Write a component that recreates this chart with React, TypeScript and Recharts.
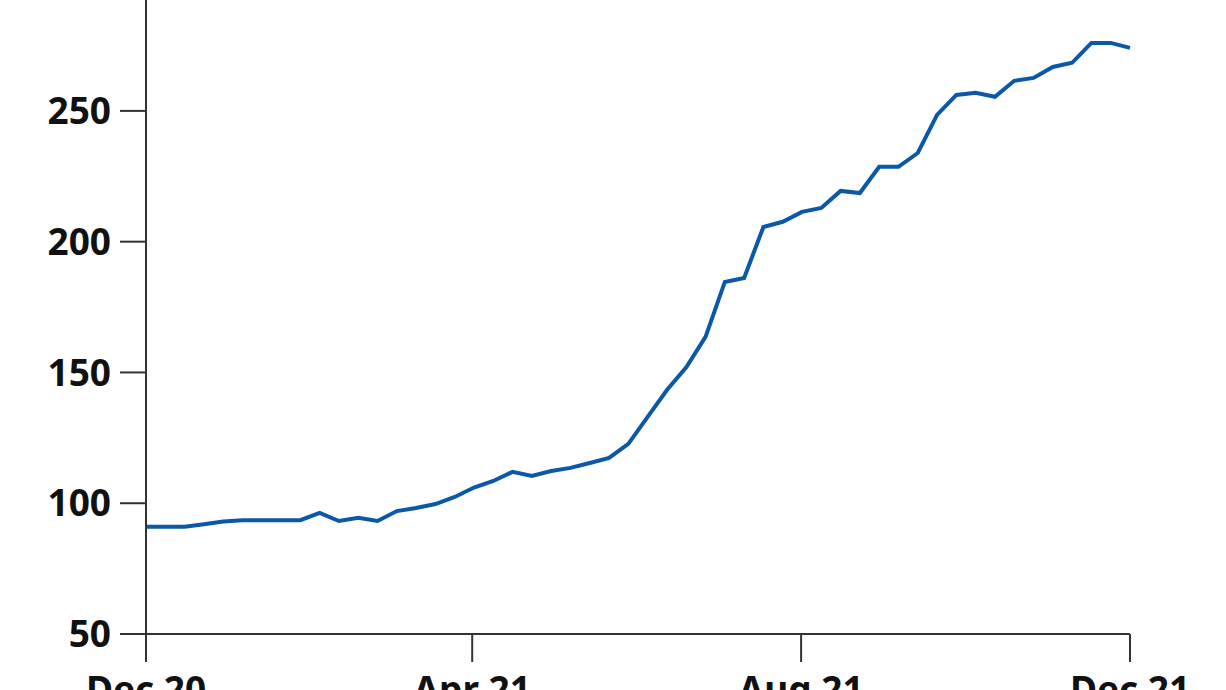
import { LineChart, Line, XAxis, YAxis } from "recharts";

// weekly values, Dec 2020 -> Dec 2021
const values = [
  91, 91, 91, 92, 93, 93.5, 93.5, 93.5, 93.5, 96.3, 93.2, 94.4, 93.2, 97, 98.2,
  99.7, 102.4, 106, 108.5, 112, 110.4, 112.3, 113.5, 115.4, 117.3, 122.7, 133,
  143.3, 152, 163.6, 184.6, 186.1, 205.6, 207.6, 211.4, 212.9, 219.4, 218.6,
  228.6, 228.6, 233.9, 248.5, 256.1, 256.9, 255.4, 261.5, 262.6, 266.8, 268.4,
  276, 276, 274.1
];

// days since 1 Dec 2020 for each month tick
const tickDays = [0, 121, 243, 365];
const tickLabels = ["Dec 20", "Apr 21", "Aug 21", "Dec 21"];
const yTicks = [50, 100, 150, 200, 250];

const SPAN_DAYS = 365;

const data = values.map((v, i) => ({
  day: (i * SPAN_DAYS) / (values.length - 1),
  value: v
}));

const tickFont = {
  fontFamily: "'Noto Sans', 'Open Sans', sans-serif",
  fontWeight: 700,
  fontSize: 37,
  fill: "#111"
};

export default function App() {
  return (
    <div
      style={{
        position: "absolute",
        left: 0,
        top: 0,
        width: 1226,
        height: 690,
        overflow: "hidden",
        background: "#fff"
      }}
    >
      <LineChart
        width={1226}
        height={690}
        data={data}
        margin={{ top: 0, right: 96, bottom: 0, left: 0 }}
      >
        <XAxis
          dataKey="day"
          type="number"
          domain={[0, SPAN_DAYS]}
          ticks={tickDays}
          tickFormatter={(d: number) => tickLabels[tickDays.indexOf(d)] ?? ""}
          height={56}
          tickSize={28}
          tickMargin={15}
          axisLine={{ stroke: "#333", strokeWidth: 2 }}
          tickLine={{ stroke: "#333", strokeWidth: 2 }}
          tick={tickFont}
          interval={0}
        />
        <YAxis
          type="number"
          domain={[50, 292.4]}
          ticks={yTicks}
          allowDataOverflow
          width={146}
          tickSize={26}
          tickMargin={9}
          axisLine={{ stroke: "#333", strokeWidth: 2 }}
          tickLine={{ stroke: "#333", strokeWidth: 2 }}
          tick={tickFont}
          interval={0}
        />
        <Line
          type="linear"
          dataKey="value"
          stroke="#0b57a8"
          strokeWidth={4}
          dot={false}
          isAnimationActive={false}
        />
      </LineChart>
    </div>
  );
}
